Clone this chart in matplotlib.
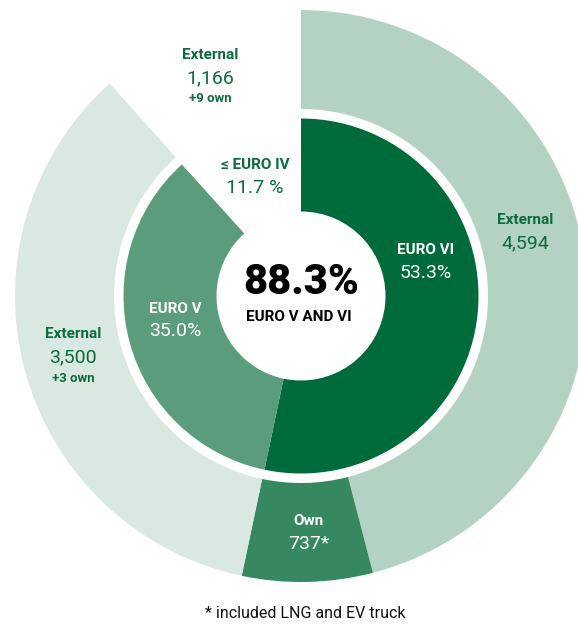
import matplotlib
matplotlib.use("Agg")
import matplotlib.pyplot as plt

# ---- data ----
inner_labels = ["EURO VI", "EURO V", "≤ EURO IV"]
inner_values = [53.3, 35.0, 11.7]
outer_labels = ["External", "Own", "External", "External"]
outer_values = [4594, 737, 3500, 1166]
outer_extra = ["", "", "+3 own", "+9 own"]
center_value = "88.3%"
center_label = "EURO V AND VI"
footnote = "* included LNG and EV truck"

# ---- style ----
DARK = "#006B3A"
MED = "#5A9C7C"
OWN = "#368861"
LIGHT = "#B4D2C4"
VLIGHT = "#D9E8E0"
TXT = "#0B6B3A"
FONT = ["Roboto", "DejaVu Sans"]

W, H = 578, 626
fig = plt.figure(figsize=(W / 100, H / 100), dpi=100)
ax = fig.add_axes([0, 0, 1, 1])

cx, cy = 301, H - 296

ax.pie(outer_values, radius=286, center=(cx, cy), startangle=90, counterclock=False,
       colors=[LIGHT, OWN, VLIGHT, "white"],
       wedgeprops=dict(width=99, linewidth=0))
ax.pie(inner_values, radius=177.5, center=(cx, cy), startangle=90, counterclock=False,
       colors=[DARK, MED, "white"],
       wedgeprops=dict(width=93, linewidth=0))

ax.set_xlim(0, W)
ax.set_ylim(0, H)
ax.set_aspect("equal")
ax.axis("off")


def t(x, y, s, size, color, weight="normal"):
    ax.text(x, H - y, s, fontsize=size, color=color, fontweight=weight,
            ha="center", va="center", family=FONT)


NUMW = "normal"
# inner labels
t(426, 250, inner_labels[0], 11, "white", "bold")
t(426, 273, f"{inner_values[0]:.1f}%", 14, "white", NUMW)
t(175, 309, inner_labels[1], 11, "white", "bold")
t(175, 331, f"{inner_values[1]:.1f}%", 14, "white", NUMW)
t(255, 165, inner_labels[2], 11, TXT, "bold")
t(255, 188, f"{inner_values[2]:.1f} %", 14, TXT, NUMW)

# outer labels
t(525, 220, outer_labels[0], 11, TXT, "bold")
t(525, 243, f"{outer_values[0]:,}", 14, TXT, NUMW)
t(309, 521, outer_labels[1], 11, "white", "bold")
t(309, 544, f"{outer_values[1]:,}*", 14, "white", NUMW)
t(73, 334, outer_labels[2], 11, TXT, "bold")
t(73, 357, f"{outer_values[2]:,}", 14, TXT, NUMW)
t(73, 379, outer_extra[2], 9.5, TXT, "bold")
t(210, 55, outer_labels[3], 11, TXT, "bold")
t(210, 78, f"{outer_values[3]:,}", 14, TXT, NUMW)
t(210, 99, outer_extra[3], 9.5, TXT, "bold")

# center
t(301, 283, center_value, 30, "black", "black")
t(299, 317, center_label, 11, "black", "bold")

# footnote
t(305, 614, footnote, 11.5, "#111111")

fig.savefig("out.png", dpi=100, facecolor="white")
